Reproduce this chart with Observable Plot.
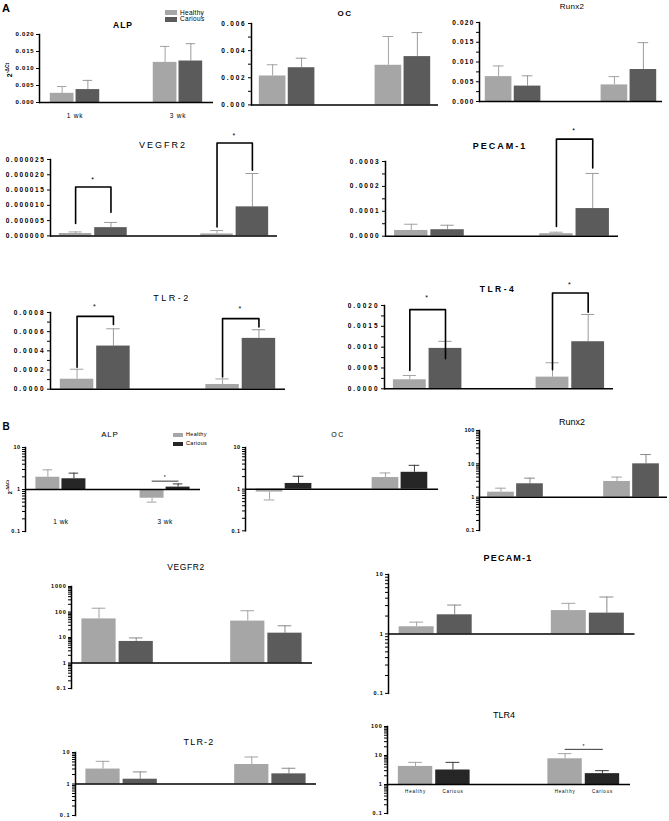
<!DOCTYPE html>
<html><head><meta charset="utf-8">
<script src="https://cdn.jsdelivr.net/npm/d3@7"></script>
<script src="https://cdn.jsdelivr.net/npm/@observablehq/plot@0.6"></script>
<style>
body{margin:0;background:#fff;}
#fig{position:relative;width:669px;height:821px;overflow:hidden;background:#fff;font-family:"Liberation Sans",Arial,sans-serif;color:#000;}
#fig svg{position:absolute;overflow:visible;background:none;}
#fig svg [aria-label="frame"]{stroke-width:1.5px;stroke:#000;}
.t{position:absolute;transform:translate(-50%,-50%);white-space:nowrap;line-height:1;color:#000;}
.l{position:absolute;white-space:nowrap;line-height:1;transform:translateY(-50%);color:#000;}
.sw{position:absolute;}
</style></head><body><div id="fig"></div>
<script>
// ---------- categories ----------
const weeks = ["1 wk", "3 wk"];
const groups = ["Healthy", "Carious"];

// order of values: [1 wk Healthy, 1 wk Carious, 3 wk Healthy, 3 wk Carious]
// ---------- Panel A : 2^-ΔCt ----------
const A_ALP_mean = [0.0027, 0.0038, 0.0118, 0.0122];
const A_ALP_err  = [0.0020, 0.0027, 0.0047, 0.0051];
const A_OC_mean = [0.00213, 0.00274, 0.00292, 0.00356];
const A_OC_err  = [0.00083, 0.00070, 0.00212, 0.00177];
const A_RUNX2_mean = [0.0063, 0.0039, 0.0042, 0.0081];
const A_RUNX2_err  = [0.0027, 0.0026, 0.0021, 0.0068];
const A_VEGFR2_mean = [0.00000078, 0.0000027, 0.00000065, 0.0000095];
const A_VEGFR2_err  = [0.00000052, 0.0000017, 0.0000011, 0.0000109];
const A_PECAM1_mean = [0.000023, 0.000026, 0.000010, 0.000111];
const A_PECAM1_err  = [0.000025, 0.000018, 0.000006, 0.000141];
const A_TLR2_mean = [0.000104, 0.00045, 0.000049, 0.00053];
const A_TLR2_err  = [0.000104, 0.00018, 0.000058, 0.00009];
const A_TLR4_mean = [0.000216, 0.00097, 0.00028, 0.00113];
const A_TLR4_err  = [0.000104, 0.00017, 0.000345, 0.000655];

// significance brackets: week, left leg end, bracket top, right leg end, star height
const A_VEGFR2_sig = [
  {week: "1 wk", left: 0.00000405, top: 0.000016, right: 0.0000077, star: 0.0000185},
  {week: "3 wk", left: 0.0000029, top: 0.0000304, right: 0.0000215, star: 0.0000328}
];
const A_PECAM1_sig = [
  {week: "3 wk", left: 0.000039, top: 0.00039, right: 0.000274, star: 0.000422}
];
const A_TLR2_sig = [
  {week: "1 wk", left: 0.00023, top: 0.00076, right: 0.000674, star: 0.000862},
  {week: "3 wk", left: 0.000128, top: 0.000736, right: 0.00065, star: 0.000838}
];
const A_TLR4_sig = [
  {week: "1 wk", left: 0.00044, top: 0.0019, right: 0.00072, star: 0.00218},
  {week: "3 wk", left: 0.000457, top: 0.0023, right: 0.00184, star: 0.00249}
];

// ---------- Panel B : 2^-ΔΔCt (log) ----------
const B_ALP_mean = [1.96, 1.80, 0.62, 1.14];
const B_ALP_err  = [0.98, 0.65, 0.12, 0.22];
const B_OC_mean = [0.85, 1.37, 1.90, 2.54];
const B_OC_err  = [0.30, 0.67, 0.55, 1.19];
const B_RUNX2_mean = [1.41, 2.52, 2.96, 10.0];
const B_RUNX2_err  = [0.45, 1.20, 1.04, 9.0];
const B_VEGFR2_mean = [53.6, 7.0, 44.0, 14.8];
const B_VEGFR2_err  = [87, 2.6, 68, 14];
const B_PECAM1_mean = [1.32, 2.10, 2.47, 2.24];
const B_PECAM1_err  = [0.26, 0.96, 0.80, 1.94];
const B_TLR2_mean = [2.98, 1.42, 4.15, 2.10];
const B_TLR2_err  = [2.27, 1.00, 3.05, 1.06];
const B_TLR4_mean = [4.2, 3.16, 7.7, 2.37];
const B_TLR4_err  = [1.6, 2.64, 3.9, 0.63];
const B_ALP_sig = [{week: "3 wk", line: 1.58, star: 1.95}];
const B_TLR4_sig = [{week: "3 wk", line: 16.3, star: 21}];

// ---------- tick labels ----------
const A_ALP_ticks = [0, 0.005, 0.010, 0.015, 0.020];
const A_OC_ticks = [0, 0.002, 0.004, 0.006];
const A_OC_minor = [0.001, 0.003, 0.005];
const A_RUNX2_ticks = [0, 0.005, 0.010, 0.015, 0.020];
const A_RUNX2_minor = [0.0025, 0.0075, 0.0125, 0.0175];
const A_VEGFR2_ticks = [0, 0.000005, 0.000010, 0.000015, 0.000020, 0.000025];
const A_PECAM1_ticks = [0, 0.0001, 0.0002, 0.0003];
const A_PECAM1_minor = [0.00005, 0.00015, 0.00025];
const A_TLR2_ticks = [0, 0.0002, 0.0004, 0.0006, 0.0008];
const A_TLR2_minor = [0.0001, 0.0003, 0.0005, 0.0007];
const A_TLR4_ticks = [0, 0.0005, 0.0010, 0.0015, 0.0020];
const A_TLR4_minor = [0.00025, 0.00075, 0.00125, 0.00175];
const LOG_decades = [0.1, 1, 10, 100, 1000];
const LOG_minor_steps = [2, 3, 4, 5, 6, 7, 8, 9];

// ---------- colours ----------
const A_colors = ["#a6a6a6", "#5b5b5b"];
const B_colors_dark = ["#a6a6a6", "#262626"];
const B_colors = ["#a6a6a6", "#5b5b5b"];

const fig = document.getElementById("fig");
const key = (w, g) => w + " " + g;

function logTicks(domain) {
  const out = [];
  for (const d of LOG_decades) {
    if (d >= domain[0] - 1e-9 && d <= domain[1] + 1e-9) out.push(d);
    for (const m of LOG_minor_steps) {
      const v = +(d * m).toPrecision(6);
      if (v > domain[0] && v < domain[1]) out.push(v);
    }
  }
  return out;
}

function panel(p) {
  const ml = 52, mr = 6, mt = 45, mb = 28;
  const W = p.x1 - p.x0, H = p.y1 - p.y0;
  const dom = [key(weeks[0], groups[0]), key(weeks[0], groups[1]), "gap a", "gap b", key(weeks[1], groups[0]), key(weeks[1], groups[1])];
  const pi = 0.08, po = p.po;
  const xs = d3.scaleBand().domain(dom).range([0, W]).paddingInner(pi).paddingOuter(po);
  const step = xs.step(), bw = xs.bandwidth();
  const base = p.log ? 1 : 0;
  const rows = weeks.flatMap((w, i) => groups.map((g, j) => {
    const m = p.mean[i * 2 + j], e = p.err[i * 2 + j];
    return {week: w, group: g, key: key(w, g), mean: m, end: m >= base ? m + e : m - e};
  }));
  const capIn = bw * 0.3;
  const marks = [];
  groups.forEach((g, j) => {
    const r = rows.filter(d => d.group === g);
    marks.push(Plot.ruleX(r, {x: "key", y1: "mean", y2: "end", stroke: p.errColors[j], strokeWidth: 1}));
    marks.push(Plot.tickY(r, {x: "key", y: "end", stroke: p.errColors[j], strokeWidth: 1, insetLeft: capIn, insetRight: capIn}));
    marks.push(Plot.barY(r, {x: "key", y1: base, y2: "mean", fill: p.colors[j]}));
  });
  marks.push(Plot.ruleY([base], {stroke: "#000", strokeWidth: 1.5}));
  if (p.brackets) {
    const pts = p.brackets.flatMap((s, i) => [
      {id: i, key: key(s.week, groups[0]), y: s.left},
      {id: i, key: key(s.week, groups[0]), y: s.top},
      {id: i, key: key(s.week, groups[1]), y: s.top},
      {id: i, key: key(s.week, groups[1]), y: s.right}
    ]);
    marks.push(Plot.line(pts, {x: "key", y: "y", z: "id", stroke: "#000", strokeWidth: 1.6}));
    marks.push(Plot.text(p.brackets, {x: s => key(s.week, groups[0]), y: "star", text: () => "*", dx: step / 2, fontSize: 7, fontWeight: "normal"}));
  }
  if (p.sig) {
    const pts = p.sig.flatMap((s, i) => [
      {id: i, key: key(s.week, groups[0]), y: s.line},
      {id: i, key: key(s.week, groups[1]), y: s.line}
    ]);
    marks.push(Plot.line(pts, {x: "key", y: "y", z: "id", stroke: "#000", strokeWidth: 0.8}));
    marks.push(Plot.text(p.sig, {x: s => key(s.week, groups[0]), y: "star", text: () => "*", dx: step / 2, fontSize: 5, fontWeight: "normal"}));
  }
  if (p.weekLabels) {
    marks.push(Plot.text(weeks, {x: w => key(w, groups[0]), text: w => w, frameAnchor: "bottom", dx: step / 2, dy: p.weekLabels.dy, fontSize: p.weekLabels.fs, fontWeight: "normal", fill: "#000"}));
  }
  if (p.groupLabels) {
    marks.push(Plot.text(rows, {x: "key", y: base, text: "group", dy: 7, fontSize: 4.5, fontWeight: "normal", fill: "#000"}));
  }
  let ticks, fmt;
  if (p.log) {
    ticks = logTicks(p.domain);
    fmt = d => LOG_decades.includes(d) ? String(d) : "";
  } else {
    ticks = p.ticks.concat(p.minor || []);
    fmt = d => p.ticks.includes(d) ? d3.format(p.fmt)(d) : "";
  }
  const svg = Plot.plot({
    width: W + ml + mr,
    height: H + mt + mb,
    marginLeft: ml, marginRight: mr, marginTop: mt, marginBottom: mb,
    x: {domain: dom, paddingInner: pi, paddingOuter: po, round: false, axis: null},
    y: {type: p.log ? "log" : "linear", domain: p.domain, ticks, tickFormat: fmt, tickSize: 3, tickPadding: 2, line: true, label: null},
    style: {fontFamily: "'Liberation Sans', Arial, sans-serif", fontSize: p.fs + "px", fontWeight: "bold", letterSpacing: p.ls + "px", overflow: "visible", background: "none", color: "#000"},
    marks
  });
  svg.style.left = (p.x0 - ml) + "px";
  svg.style.top = (p.y0 - mt) + "px";
  svg.style.position = "absolute";
  fig.appendChild(svg);
}

const Aerr = ["#a3a3a3", "#9a9a9a"];
const Berr = ["#a3a3a3", "#8a8a8a"];
const Berr_dark = ["#a3a3a3", "#3a3a3a"];

// Panel A
panel({x0: 39, x1: 213, y0: 34, y1: 102, po: 0.42, domain: [0, 0.02], ticks: A_ALP_ticks, fmt: ".3f", fs: 6, ls: 0.8,
  mean: A_ALP_mean, err: A_ALP_err, colors: A_colors, errColors: Aerr, weekLabels: {dy: 15, fs: 6.5}});
panel({x0: 251, x1: 438, y0: 23.3, y1: 104.7, po: 0.27, domain: [0, 0.006], ticks: A_OC_ticks, minor: A_OC_minor, fmt: ".3f", fs: 6.5, ls: 1.8,
  mean: A_OC_mean, err: A_OC_err, colors: A_colors, errColors: Aerr});
panel({x0: 479, x1: 662, y0: 21.7, y1: 100.7, po: 0.2, domain: [0, 0.02], ticks: A_RUNX2_ticks, minor: A_RUNX2_minor, fmt: ".3f", fs: 6.5, ls: 1.2,
  mean: A_RUNX2_mean, err: A_RUNX2_err, colors: A_colors, errColors: Aerr});
panel({x0: 50, x1: 277, y0: 159.3, y1: 235.7, po: 0.25, domain: [0, 0.000025], ticks: A_VEGFR2_ticks, fmt: ".6f", fs: 6.5, ls: 1.6,
  mean: A_VEGFR2_mean, err: A_VEGFR2_err, colors: A_colors, errColors: Aerr, brackets: A_VEGFR2_sig});
panel({x0: 385, x1: 618, y0: 161, y1: 235.7, po: 0.25, domain: [0, 0.0003], ticks: A_PECAM1_ticks, minor: A_PECAM1_minor, fmt: ".4f", fs: 6.5, ls: 1.8,
  mean: A_PECAM1_mean, err: A_PECAM1_err, colors: A_colors, errColors: Aerr, brackets: A_PECAM1_sig});
panel({x0: 50, x1: 285, y0: 312.3, y1: 389, po: 0.27, domain: [0, 0.0008], ticks: A_TLR2_ticks, minor: A_TLR2_minor, fmt: ".4f", fs: 6.5, ls: 2,
  mean: A_TLR2_mean, err: A_TLR2_err, colors: A_colors, errColors: Aerr, brackets: A_TLR2_sig});
panel({x0: 384, x1: 613, y0: 305, y1: 388.3, po: 0.25, domain: [0, 0.002], ticks: A_TLR4_ticks, minor: A_TLR4_minor, fmt: ".4f", fs: 6.5, ls: 2,
  mean: A_TLR4_mean, err: A_TLR4_err, colors: A_colors, errColors: Aerr, brackets: A_TLR4_sig});

// Panel B
panel({x0: 25, x1: 200, y0: 446.7, y1: 530.7, po: 0.4, log: true, domain: [0.1, 10], fs: 5.5, ls: 0.5,
  mean: B_ALP_mean, err: B_ALP_err, colors: B_colors_dark, errColors: Berr_dark, sig: B_ALP_sig, weekLabels: {dy: -8, fs: 6.5}});
panel({x0: 245, x1: 438, y0: 446.7, y1: 530, po: 0.37, log: true, domain: [0.1, 10], fs: 5.5, ls: 0.5,
  mean: B_OC_mean, err: B_OC_err, colors: B_colors_dark, errColors: Berr_dark});
panel({x0: 479, x1: 667, y0: 430, y1: 530, po: 0.28, log: true, domain: [0.1, 100], fs: 5.5, ls: 0.3,
  mean: B_RUNX2_mean, err: B_RUNX2_err, colors: B_colors, errColors: Berr});
panel({x0: 71, x1: 312, y0: 586, y1: 688, po: 0.28, log: true, domain: [0.1, 1000], fs: 5.5, ls: 0.8,
  mean: B_VEGFR2_mean, err: B_VEGFR2_err, colors: B_colors, errColors: Berr});
panel({x0: 387.5, x1: 634, y0: 574.3, y1: 693.2, po: 0.28, log: true, domain: [0.1, 10], fs: 5.5, ls: 0.8,
  mean: B_PECAM1_mean, err: B_PECAM1_err, colors: B_colors, errColors: Berr});
panel({x0: 75, x1: 316, y0: 752, y1: 815, po: 0.28, log: true, domain: [0.1, 10], fs: 5.5, ls: 1,
  mean: B_TLR2_mean, err: B_TLR2_err, colors: B_colors, errColors: Berr});
panel({x0: 387, x1: 630, y0: 726, y1: 813, po: 0.29, log: true, domain: [0.1, 100], fs: 5.5, ls: 0.8,
  mean: B_TLR4_mean, err: B_TLR4_err, colors: B_colors_dark, errColors: Berr_dark, sig: B_TLR4_sig, groupLabels: true});

// ---------- titles and annotations ----------
const titles = [
  ["ALP", 123, 25, 8.5, "bold", 1], ["OC", 345, 14, 8, "bold", 1.5], ["Runx2", 572, 7, 8, "normal", 0.3],
  ["VEGFR2", 163, 145, 9, "normal", 2], ["PECAM-1", 500, 146, 9, "bold", 2], ["TLR-2", 172, 298, 9, "normal", 2.5],
  ["TLR-4", 498, 289, 8.5, "bold", 2.5],
  ["ALP", 110, 435, 8, "normal", 0.8], ["OC", 338, 434, 7, "normal", 1.5], ["Runx2", 572, 422, 9, "normal", 0],
  ["VEGFR2", 186, 567, 8.5, "normal", 0.6], ["PECAM-1", 508, 558, 9, "bold", 1.2], ["TLR-2", 199, 742, 9, "normal", 1.2],
  ["TLR4", 504, 715, 9, "normal", 0]
];
for (const [t, x, y, fs, fw, ls] of titles) {
  const d = document.createElement("div");
  d.className = "t";
  d.textContent = t;
  Object.assign(d.style, {left: x + "px", top: y + "px", fontSize: fs + "px", fontWeight: fw, letterSpacing: ls + "px"});
  fig.appendChild(d);
}
function addText(html, x, y, css, cls) {
  const d = document.createElement("div");
  d.className = cls || "t";
  d.innerHTML = html;
  d.style.left = x + "px"; d.style.top = y + "px";
  Object.assign(d.style, css || {});
  fig.appendChild(d);
}
addText("A", 6, 8, {fontSize: "11px", fontWeight: "bold"});
addText("B", 6, 427, {fontSize: "10px", fontWeight: "bold"});
addText("2<sup style='font-size:5px'>-ΔCt</sup>", 9, 70, {fontSize: "7px", fontWeight: "bold", transform: "translate(-50%,-50%) rotate(-90deg)"});
addText("2<sup style='font-size:4px'>-ΔΔCt</sup>", 10, 487, {fontSize: "5.5px", fontWeight: "bold", transform: "translate(-50%,-50%) rotate(-90deg)"});

function legend(x, y, w, h, gap, fs, colors) {
  groups.forEach((g, j) => {
    const s = document.createElement("div");
    s.className = "sw";
    Object.assign(s.style, {left: x + "px", top: (y + j * gap) + "px", width: w + "px", height: h + "px", background: colors[j]});
    fig.appendChild(s);
    addText(g, x + w + 3, y + j * gap + h / 2, {fontSize: fs + "px", letterSpacing: "0.3px"}, "l");
  });
}
legend(165, 10, 12, 5, 6.5, 6.5, A_colors);
legend(173, 433, 10, 4, 9, 5.5, B_colors_dark);
</script>
</body></html>
